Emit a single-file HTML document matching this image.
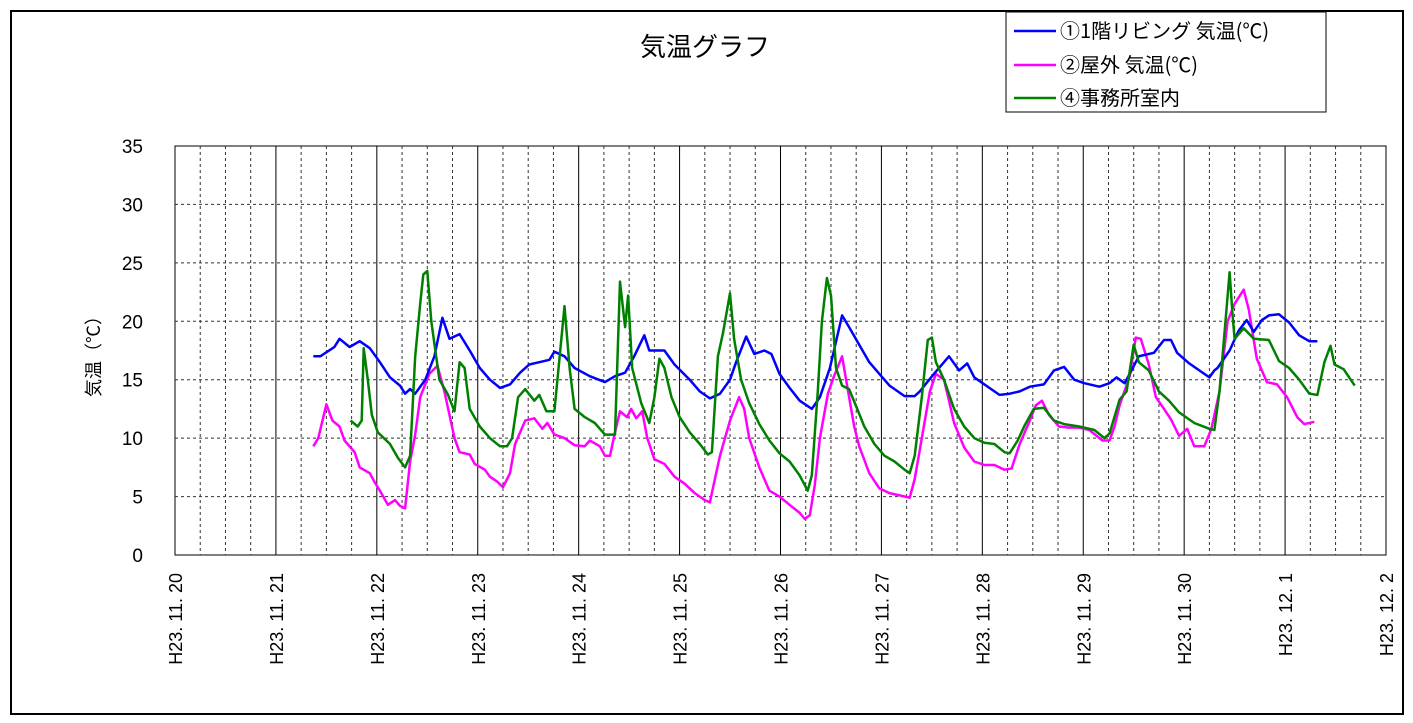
<!DOCTYPE html>
<html><head><meta charset="utf-8"><style>
body{margin:0;background:#fff;}
svg{display:block;font-family:"Liberation Sans","Noto Sans CJK JP",sans-serif;}
</style></head><body>
<svg width="1413" height="723" id="chart">
<rect x="11" y="11" width="1392" height="703" fill="#fff" stroke="#000" stroke-width="2"/>
<text x="705" y="56" font-size="26" text-anchor="middle">気温グラフ</text>
<g id="grid"></g>
<g id="series"></g>
<g id="axes"></g>
<text transform="translate(100,352) rotate(-90)" font-size="18" text-anchor="middle">気温（℃）</text>
<g style='font-family:"Noto Sans CJK JP","Liberation Sans",sans-serif'>
<rect x="1006" y="12" width="320" height="100" fill="#fff" stroke="#000" stroke-width="1"/>
<g><line x1="1014" y1="31" x2="1056" y2="31" stroke="#0000ff" stroke-width="2.5"/><text x="1060" y="38" font-size="20">①1階リビング 気温(℃)</text></g>
<g><line x1="1014" y1="65" x2="1056" y2="65" stroke="#ff00ff" stroke-width="2.5"/><text x="1060" y="72" font-size="20">②屋外 気温(℃)</text></g>
<g><line x1="1014" y1="98" x2="1056" y2="98" stroke="#008000" stroke-width="2.5"/><text x="1060" y="105" font-size="20">④事務所室内</text></g>
</g>
</svg>
<script>
const dayLabels=["H23. 11. 20","H23. 11. 21","H23. 11. 22","H23. 11. 23","H23. 11. 24","H23. 11. 25","H23. 11. 26","H23. 11. 27","H23. 11. 28","H23. 11. 29","H23. 11. 30","H23. 12. 1","H23. 12. 2"];
const yTicks=[0,5,10,15,20,25,30,35];
const livingT=[1.37,1.44,1.58,1.63,1.73,1.83,1.93,2.03,2.13,2.23,2.28,2.33,2.38,2.48,2.57,2.65,2.72,2.82,2.92,3.02,3.12,3.22,3.32,3.42,3.51,3.61,3.71,3.76,3.86,3.96,4.11,4.26,4.36,4.46,4.55,4.65,4.70,4.85,4.95,5.10,5.20,5.30,5.40,5.50,5.56,5.66,5.74,5.84,5.91,5.99,6.09,6.19,6.31,6.39,6.49,6.61,6.68,6.78,6.88,6.98,7.08,7.23,7.33,7.38,7.52,7.67,7.77,7.85,7.92,8.07,8.17,8.27,8.37,8.47,8.61,8.71,8.81,8.91,9.01,9.16,9.26,9.33,9.41,9.46,9.55,9.70,9.80,9.87,9.93,10.05,10.15,10.25,10.30,10.33,10.45,10.54,10.62,10.69,10.77,10.84,10.94,11.04,11.14,11.24,11.32];
const livingV=[17,17,17.8,18.5,17.8,18.3,17.7,16.5,15.2,14.5,13.8,14.2,13.8,15,17,20.3,18.5,18.9,17.5,16,15,14.3,14.6,15.6,16.3,16.5,16.7,17.4,17,16,15.3,14.8,15.3,15.6,17,18.8,17.5,17.5,16.3,15,14,13.4,13.8,15,16.5,18.7,17.2,17.5,17.2,15.5,14.3,13.2,12.5,13.5,16,20.5,19.5,18,16.5,15.5,14.5,13.6,13.6,14,15.5,17,15.8,16.4,15.2,14.3,13.7,13.8,14,14.4,14.6,15.8,16.1,15,14.7,14.4,14.7,15.2,14.7,15.5,17,17.3,18.4,18.4,17.3,16.4,15.8,15.2,15.8,16,17.5,19.2,20.1,19.1,20.1,20.5,20.6,19.9,18.8,18.3,18.3];
const outdoorT=[1.37,1.42,1.50,1.56,1.63,1.68,1.78,1.83,1.93,1.98,2.03,2.11,2.18,2.23,2.28,2.33,2.38,2.43,2.52,2.60,2.67,2.77,2.82,2.92,2.97,3.07,3.12,3.19,3.25,3.32,3.37,3.47,3.56,3.64,3.69,3.76,3.86,3.96,4.06,4.11,4.21,4.26,4.31,4.36,4.41,4.48,4.52,4.57,4.63,4.68,4.75,4.85,4.95,5.05,5.15,5.25,5.30,5.35,5.40,5.50,5.59,5.64,5.69,5.79,5.89,5.99,6.09,6.19,6.24,6.29,6.34,6.39,6.47,6.53,6.61,6.66,6.73,6.78,6.88,6.98,7.08,7.18,7.28,7.33,7.38,7.48,7.54,7.62,7.67,7.72,7.82,7.92,8.02,8.12,8.22,8.29,8.37,8.47,8.53,8.59,8.66,8.76,8.86,8.96,9.06,9.19,9.26,9.31,9.36,9.46,9.52,9.57,9.65,9.72,9.80,9.87,9.95,10.03,10.10,10.20,10.27,10.35,10.43,10.50,10.59,10.64,10.72,10.82,10.92,11.02,11.12,11.19,11.29];
const outdoorV=[9.3,10,12.9,11.5,11,9.8,8.8,7.5,7,6.2,5.5,4.3,4.7,4.2,4,8,10.3,13.5,15.5,16.2,14,10,8.8,8.6,7.8,7.3,6.7,6.3,5.8,7,9.5,11.5,11.7,10.8,11.3,10.3,10,9.4,9.3,9.8,9.3,8.5,8.5,10.5,12.3,11.8,12.5,11.7,12.3,10,8.2,7.8,6.7,6.1,5.3,4.7,4.5,6.5,8.5,11.5,13.5,12.5,10,7.5,5.5,5,4.3,3.6,3.1,3.4,6,10,13.8,15.3,17,14.5,11,9.3,7,5.7,5.3,5.1,4.9,6.5,9,14,15.5,15,13.2,11.3,9.2,8,7.7,7.7,7.3,7.4,9.5,11.5,12.8,13.2,12,11,10.9,10.9,10.7,9.8,9.8,11,12.8,15.3,18.6,18.5,16.3,13.5,12.5,11.6,10.2,10.8,9.3,9.3,10.8,14,20,21.5,22.7,21,16.8,14.8,14.6,13.5,11.8,11.2,11.4];
const officeT=[1.74,1.81,1.85,1.87,1.91,1.95,2.01,2.13,2.21,2.28,2.33,2.38,2.43,2.46,2.50,2.54,2.62,2.70,2.77,2.82,2.87,2.92,3.02,3.12,3.22,3.29,3.34,3.40,3.47,3.56,3.61,3.68,3.76,3.86,3.91,3.96,4.06,4.16,4.26,4.36,4.41,4.46,4.49,4.53,4.62,4.70,4.75,4.80,4.85,4.92,5.00,5.10,5.20,5.28,5.32,5.38,5.43,5.50,5.54,5.61,5.69,5.79,5.89,5.99,6.09,6.19,6.27,6.31,6.37,6.41,6.46,6.50,6.55,6.61,6.68,6.76,6.83,6.93,7.03,7.13,7.23,7.28,7.33,7.40,7.46,7.50,7.54,7.62,7.72,7.82,7.92,8.02,8.12,8.22,8.27,8.35,8.42,8.51,8.61,8.71,8.81,8.96,9.11,9.21,9.26,9.36,9.43,9.50,9.55,9.65,9.75,9.85,9.95,10.10,10.25,10.30,10.35,10.40,10.45,10.48,10.50,10.59,10.69,10.84,10.94,11.04,11.14,11.24,11.32,11.39,11.45,11.49,11.58,11.69];
const officeV=[11.5,11,11.5,17.7,15,12,10.5,9.5,8.3,7.5,8.5,17,21.5,24,24.3,20,15,13.8,12.3,16.5,16,12.5,11,10,9.3,9.3,10,13.5,14.2,13.2,13.7,12.3,12.3,21.3,16,12.5,11.8,11.3,10.3,10.3,23.4,19.5,22.2,16,13,11.3,13.5,16.8,16,13.5,11.8,10.5,9.5,8.6,8.8,17,19,22.4,18.5,15,13,11.2,9.8,8.7,8,6.8,5.5,6.8,14,20,23.7,22.2,16,14.5,14.2,12.5,11,9.5,8.5,8,7.3,7,8.5,13.5,18.4,18.6,16.5,15,12.5,11,10,9.6,9.5,8.8,8.7,9.8,11.1,12.5,12.6,11.5,11.2,11,10.7,10,10.4,13.3,14,18,16.5,15.8,14,13.2,12.2,11.3,10.8,10.7,14,19,24.2,20.5,18.5,19.4,18.5,18.4,16.6,16,15,13.8,13.7,16.5,17.9,16.3,15.9,14.5];

const NS='http://www.w3.org/2000/svg';
const L=175,R=1386,T=146,B=555,DAYS=12,YMAX=35;
const xs=t=>L+(R-L)*t/DAYS;
const ys=v=>B-(B-T)*v/YMAX;
function mk(tag,attrs,parent){const e=document.createElementNS(NS,tag);for(const k in attrs)e.setAttribute(k,attrs[k]);parent.appendChild(e);return e;}
const grid=document.getElementById('grid'),axes=document.getElementById('axes'),series=document.getElementById('series');
mk('rect',{x:L,y:T,width:R-L,height:B-T,fill:'#fff',stroke:'#000','stroke-width':1},grid);
for(let q=1;q<DAYS*4;q++){
  const x=xs(q/4);
  const solid=q%4===0;
  const ln=mk('line',{x1:x,y1:T,x2:x,y2:B,stroke:solid?'#000':'#333','stroke-width':1,'stroke-dasharray':solid?'none':'3,3'},grid);
  
  
}
yTicks.forEach(v=>{
  if(v>0&&v<YMAX){const ln=mk('line',{x1:L,y1:ys(v),x2:R,y2:ys(v),stroke:'#333','stroke-dasharray':'3,3'},grid);
  
  }
  const tx=mk('text',{x:143,y:ys(v)+7,'font-size':19,'text-anchor':'end'},axes);
  tx.textContent=v;
  
  
});
dayLabels.forEach((d,i)=>{
  const x=xs(i);
  const tx=mk('text',{transform:`translate(${x+7},573) rotate(-90)`,'font-size':18,'text-anchor':'end'},axes);
  tx.textContent=d;
  
  
});
function line(ts,vs,color,name){
  const p=mk('polyline',{points:ts.map((t,i)=>xs(t).toFixed(1)+','+ys(vs[i]).toFixed(1)).join(' '),fill:'none',stroke:color,'stroke-width':2.5,'stroke-linejoin':'round'},series);
  
  
}
line(outdoorT,outdoorV,'#ff00ff','outdoor-line');
line(livingT,livingV,'#0000ff','living-line');
line(officeT,officeV,'#008000','office-line');
</script>
</body></html>
